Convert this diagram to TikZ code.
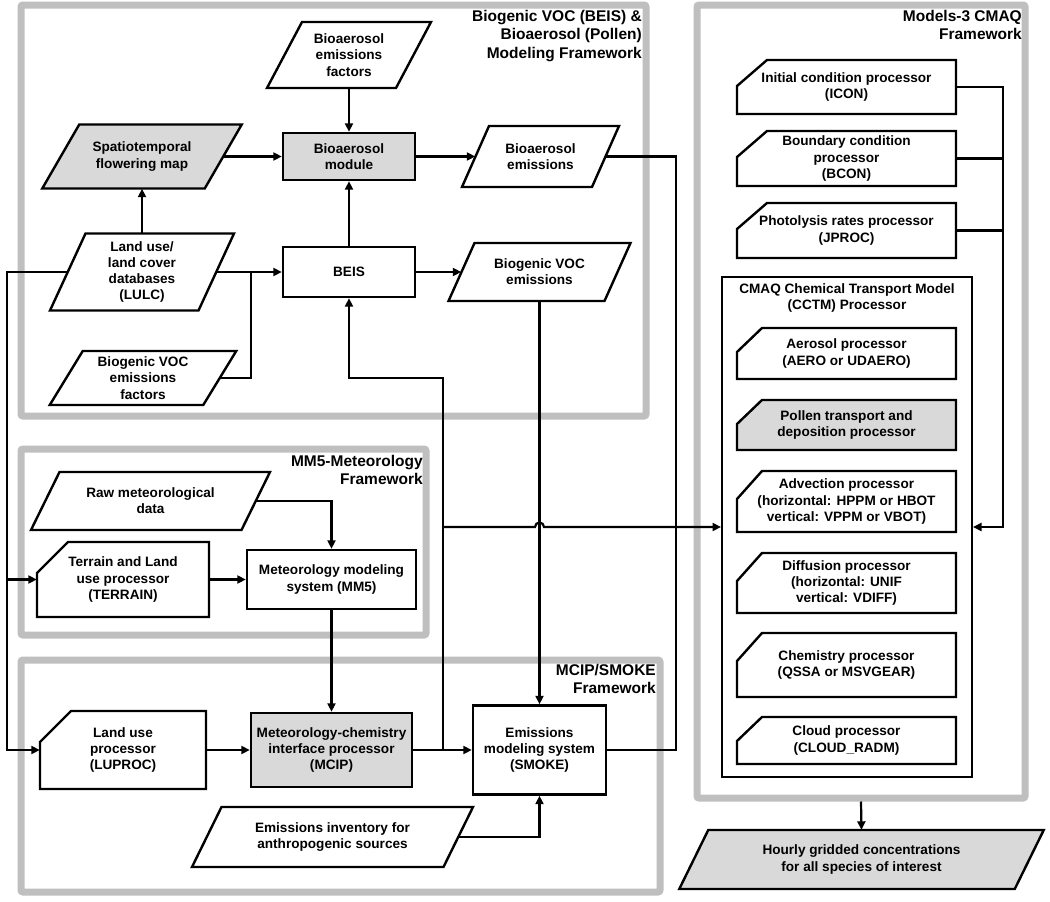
\documentclass[tikz,border=0pt]{standalone}
\usepackage{fontspec}
\setmainfont{Liberation Sans}
\usetikzlibrary{arrows.meta,calc}
\tikzset{
 nl/.style={draw=black, line width=2.4pt, line join=miter},
 txt/.style={inner sep=0pt, align=center, font=\fontsize{13.6}{16.2}\selectfont\bfseries},
 box/.style={txt, nl},
 conn/.style={line width=2.2pt},
 arr/.style={conn, -{Triangle[length=8.5pt,width=8pt]}},
 frame/.style={draw=black!25, line width=7pt, rounded corners=2pt, inner sep=0pt},
 ftitle/.style={inner sep=0pt, align=right, anchor=north east, font=\fontsize{15.5}{18.5}\selectfont\bfseries},
}
% parallelogram: name, x, y, midwidth, height, slant, fill, text
\newcommand\para[8]{%
 \path[nl, fill=#7] (#2-#4/2+#6/2, #3-#5/2) -- (#2+#4/2+#6/2, #3-#5/2) -- (#2+#4/2-#6/2, #3+#5/2) -- (#2-#4/2-#6/2, #3+#5/2) -- cycle;
 \node[txt, minimum width=#4, minimum height=#5] (#1) at (#2,#3) {#8};
}
% card: name, x, y, w, h, cut x, cut y, fill, text
\newcommand\card[9]{%
 \path[nl, fill=#8] (#2-#4/2+#6, #3-#5/2) -- (#2+#4/2, #3-#5/2) -- (#2+#4/2, #3+#5/2) -- (#2-#4/2, #3+#5/2) -- (#2-#4/2, #3-#5/2+#7) -- cycle;
 \node[txt, minimum width=#4, minimum height=#5] (#1) at (#2,#3) {#9};
}
\begin{document}
\begin{tikzpicture}[x=1pt, y=-1pt]
\useasboundingbox[fill=white] (0,0) rectangle (1050,902);

% frameworks
\node[frame, minimum width=625, minimum height=411] (fbio) at (333.5,210.5) {};
\node[frame, minimum width=405, minimum height=186] (fmm5) at (223.5,542) {};
\node[frame, minimum width=639, minimum height=232] (fmcip) at (340.5,776) {};
\node[frame, minimum width=328, minimum height=793] (fcmaq) at (861,401.5) {};
\node[ftitle] (tbio) at (642,10) {Biogenic VOC (BEIS) \&\\Bioaerosol (Pollen)\\Modeling Framework};
\node[ftitle] (tcmaq) at (1022,10) {Models-3 CMAQ\\Framework};
\node[ftitle] (tmm5) at (423,455) {MM5-Meteorology\\Framework};
\node[ftitle] (tmcip) at (656,664) {MCIP/SMOKE\\Framework};

% biogenic framework
\para{bef}{349}{55}{129}{66}{35}{white}{Bioaerosol\\emissions\\factors}
\para{spat}{142}{156.5}{162.5}{64}{37}{black!15}{Spatiotemporal\\flowering map}
\node[box, fill=black!15, minimum width=132, minimum height=47] (bmod) at (349,156.5) {Bioaerosol\\module};
\para{bae}{540.5}{156.5}{130}{61}{27}{white}{Bioaerosol\\emissions}
\para{lulc}{142}{272}{148.5}{77}{35.5}{white}{Land use/\\land cover\\databases\\(LULC)}
\node[box, minimum width=132, minimum height=50] (beis) at (349,272) {BEIS};
\para{bvoc}{539.5}{272}{156}{58}{26}{white}{Biogenic VOC\\emissions}
\para{bvef}{143}{378}{153.5}{54}{33}{white}{Biogenic VOC\\emissions\\factors}

% MM5 framework
\para{raw}{150.5}{501}{210.5}{58}{28.5}{white}{Raw meteorological\\data}
\card{terrain}{123}{579.5}{172}{75}{31}{31}{white}{Terrain and Land\\use processor\\(TERRAIN)}
\node[box, minimum width=169, minimum height=59] (mm5) at (331.5,579.5) {Meteorology modeling\\system (MM5)};

% MCIP/SMOKE framework
\card{luproc}{123}{750}{166}{78}{31}{31}{white}{Land use\\processor\\(LUPROC)}
\node[box, fill=black!15, minimum width=161, minimum height=74] (mcip) at (331.5,750) {Meteorology-chemistry\\interface processor\\(MCIP)};
\node[box, minimum width=133, minimum height=89] (smoke) at (539.5,750) {Emissions\\modeling system\\(SMOKE)};
\para{einv}{332.5}{837}{251.5}{60}{29.5}{white}{Emissions inventory for\\anthropogenic sources}

% CMAQ framework
\card{icon}{846.5}{87}{219}{54}{30}{26}{white}{Initial condition processor\\(ICON)}
\card{bcon}{846.5}{158.5}{219}{55}{30}{26}{white}{Boundary condition\\processor\\(BCON)}
\card{jproc}{846.5}{230.5}{219}{55}{30}{26}{white}{Photolysis rates processor\\(JPROC)}
\node[nl, line width=2pt, inner sep=0pt, minimum width=250, minimum height=500] (cctm) at (847,527) {};
\node[txt, anchor=north] (tcctm) at (847,283) {CMAQ Chemical Transport Model\\(CCTM) Processor};
\card{aero}{846.5}{353.5}{219}{51}{25}{24}{white}{Aerosol processor\\(AERO or UDAERO)}
\card{pollen}{846.5}{425}{219}{50}{25}{24}{black!15}{Pollen transport and\\deposition processor}
\card{adv}{846.5}{501.5}{219}{61}{25}{28}{white}{Advection processor\\(horizontal: HPPM or HBOT\\vertical: VPPM or VBOT)}
\card{diff}{846.5}{583}{219}{60}{25}{28}{white}{Diffusion processor\\(horizontal: UNIF\\vertical: VDIFF)}
\card{chem}{846.5}{665}{219}{64}{25}{28}{white}{Chemistry processor\\(QSSA or MSVGEAR)}
\card{cloud}{846.5}{740.5}{219}{47}{25}{24}{white}{Cloud processor\\(CLOUD\_RADM)}
\para{hourly}{861.5}{859.5}{335.5}{59}{29}{black!15}{Hourly gridded concentrations\\for all species of interest}

% coordinates
\coordinate (j1) at (251,272);
\coordinate (b1) at (443,750);
\coordinate (b2) at (443,378);
\coordinate (b3) at (443,527);
\coordinate (c1) at (676,750);
\coordinate (L1) at (7,272);
\coordinate (r2) at (1003,527);

% connectors: biogenic
\draw[arr] (bef.south) -- (bmod.north);
\draw[arr] (spat.east) -- (bmod.west);
\draw[arr] (lulc.north) -- (spat.south);
\draw[arr] (beis.north) -- (bmod.south);
\draw[arr] (bmod.east) -- (bae.west);
\draw[arr] (lulc.east) -- (beis.west);
\draw[conn] (bvef.east) -| (j1);
\draw[arr] (beis.east) -- (bvoc.west);
\draw[conn] (bae.east) -| (c1) -- (smoke.east);
\draw[arr] (bvoc.south) -- (smoke.north);

% left feed line
\draw[arr] (lulc.west) -- (L1) |- (luproc.west);
\draw[arr] (L1 |- terrain.west) -- (terrain.west);

% MM5
\draw[arr] (raw.east) -| (mm5.north);
\draw[arr] (terrain.east) -- (mm5.west);
\draw[arr] (mm5.south) -- (mcip.north);

% MCIP / SMOKE
\draw[arr] (luproc.east) -- (mcip.west);
\draw[arr] (mcip.east) -- (smoke.west);
\draw[arr] (einv.east) -| (smoke.south);
\draw[arr] (b1) -- (b2) -| (beis.south);
\draw[arr] (b3) -- ($(bvoc.south |- b3)+(-4.5,0)$) arc[start angle=180, end angle=0, radius=4.5pt] -- (cctm.west);

% CMAQ
\draw[arr] (icon.east) -| (r2) -- (cctm.east);
\draw[conn] (bcon.east) -- (bcon.east -| r2);
\draw[conn] (jproc.east) -- (jproc.east -| r2);
\draw[arr] (fcmaq.south) -- (hourly.north);
\end{tikzpicture}
\end{document}
